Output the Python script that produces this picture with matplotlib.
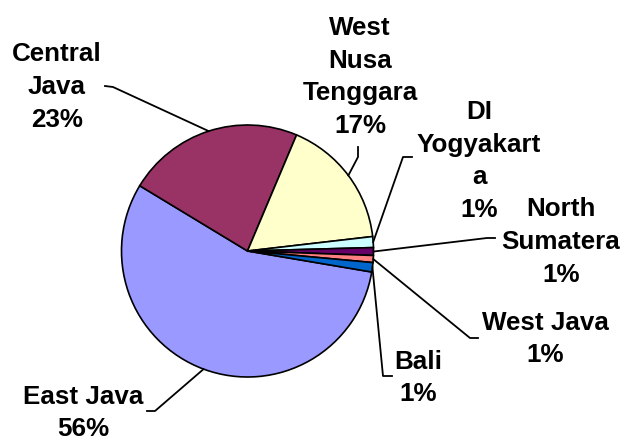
import matplotlib
matplotlib.use("Agg")
import matplotlib.pyplot as plt
import numpy as np

# share of each province, clockwise from East Java
provinces = ["East Java", "Central Java", "West Nusa Tenggara", "DI Yogyakarta",
             "North Sumatera", "West Java", "Bali"]
wrapped = ["East Java", "Central\nJava", "West\nNusa\nTenggara", "DI\nYogyakart\na",
           "North\nSumatera", "West Java", "Bali"]
share = [56.0, 22.7, 16.8, 1.4, 1.0, 0.9, 1.2]
colors = ["#9999FF", "#993366", "#FFFFCC", "#CCFFFF", "#660066", "#FF8080", "#0066CC"]

W, H = 621, 439
cx, cy, rad = 247.5, 252, 126

# label centre, elbow of the leader line, and end of the short stub (pixels from top-left)
label_xy = [(83, 413), (57, 87), (360, 77), (479, 161), (561, 242), (545, 339), (418, 378)]
elbow_xy = [(155, 412), (113, 88), (358, 158), (403, 158), (487, 239), (470, 339), (383, 377)]
stub_xy = [(147, 412), (105, 87), (358, 148), (412, 158), (495, 239), (478, 339), (392, 377)]

plt.rcParams['font.family'] = ['Liberation Sans', 'DejaVu Sans']

fig = plt.figure(figsize=(W / 100, H / 100), dpi=100)
ax = fig.add_axes([0, 0, 1, 1])

wedges, _ = ax.pie(share, colors=colors, startangle=-9.6, counterclock=False,
                   center=(cx, H - cy), radius=rad,
                   wedgeprops=dict(edgecolor="black", linewidth=1.2))

total = sum(share)
for w, name, v, (lx, ly), (ex, ey), (sx, sy) in zip(wedges, wrapped, share,
                                                     label_xy, elbow_xy, stub_xy):
    mid = np.deg2rad((w.theta1 + w.theta2) / 2)
    px = cx + rad * np.cos(mid)
    py = H - cy + rad * np.sin(mid)
    ax.plot([px, ex, sx], [py, H - ey, H - sy], color="black", lw=1.3)
    ax.text(lx, H - ly, f"{name}\n{v / total * 100:.0f}%", ha="center", va="center",
            fontsize=18.7, fontweight="bold", linespacing=1.45)

ax.set_xlim(0, W)
ax.set_ylim(0, H)
ax.set_aspect("equal")
ax.axis("off")

fig.savefig("out.png", dpi=100, facecolor="white")
